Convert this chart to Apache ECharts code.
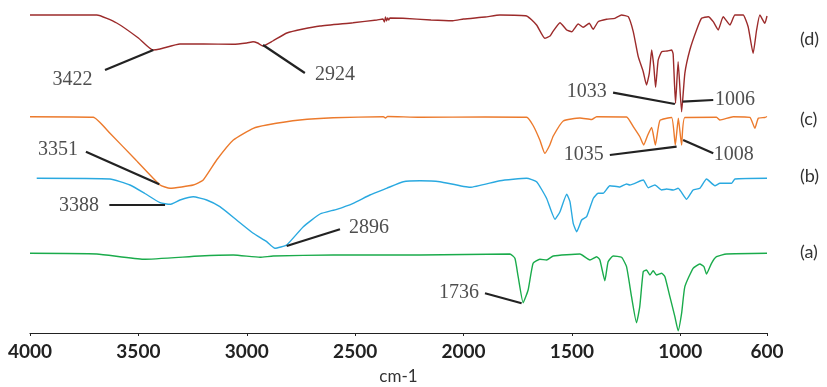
<!DOCTYPE html>
<html>
<head>
<meta charset="utf-8">
<script src="https://cdn.jsdelivr.net/npm/echarts@6/dist/echarts.min.js"></script>
<style>
  html, body { margin: 0; padding: 0; background: #fff; }
  #chart { width: 827px; height: 387px; }
</style>
</head>
<body>
<div id="chart"></div>
<script>
// wavenumber (cm-1), offset transmittance (a.u.)
const specD = [[4000,318],[3692,318],[3600,310],[3500,295],[3433,283],[3400,284],[3308,289],[3200,289],[3064,288.7],[3000,290],[2971,291.3],[2950,290],[2925,287],[2880,292],[2815,300],[2740,304],[2662,307],[2510,310.3],[2400,313],[2372,314],[2365,311],[2360,316],[2355,312],[2350,315],[2345,313],[2340,315],[2280,314.7],[2150,313],[2049,312.3],[2000,314],[1900,316],[1832,318],[1709,317],[1663,308],[1625,294.7],[1601,297],[1588,301.3],[1555,310.3],[1524,303],[1501,301.3],[1471,309],[1448,305.7],[1420,309.7],[1402,303.7],[1379,311.3],[1340,313.7],[1302,314.7],[1271,318],[1240,316.3],[1217,301.3],[1194,276.3],[1171,261.3],[1156,248],[1143,259.7],[1132,283],[1122,266.3],[1114,245.7],[1102,273],[1086,281.3],[1060,282],[1040,283],[1033,279],[1022,229.7],[1010,271.3],[994,221.3],[979,259.7],[956,283],[925,303],[902,314.7],[871,316.3],[848,311.3],[825,303],[802,316.3],[771,308],[748,318],[710,318],[687,306.3],[664,279.7],[648,303],[633,318],[610,309.7],[600,317]];

const specC = [[4000,216.3],[3708,215.7],[3631,199.7],[3516,174],[3400,148],[3354,144.7],[3247,148],[3201,153],[3139,173],[3062,193],[2970,204.7],[2908,208],[2755,213],[2601,215.3],[2370,216.3],[2360,215],[2350,216.5],[2201,215.7],[1900,216],[1709,215.7],[1679,207.5],[1648,193],[1625,179.7],[1602,188],[1586,197],[1540,212],[1463,215],[1409,213.5],[1386,216.3],[1248,216],[1217,206.3],[1186,196],[1169,188],[1150,198],[1132,205.5],[1115,188],[1094,212.5],[1040,215.5],[1023,188],[1009,214.7],[994,188],[979,215.5],[833,215.7],[817,213],[756,216.3],[679,215.7],[656,204.7],[640,214.7],[610,215.5],[600,216.5]];

const specB = [[3969,154.7],[3631,154],[3539,148],[3470,139.5],[3400,130.3],[3354,128.7],[3308,133],[3247,136.3],[3185,133],[3124,126.3],[3047,113],[2970,99.7],[2908,91.3],[2870,84.7],[2816,88],[2739,106.3],[2662,119],[2585,123.7],[2509,129.7],[2432,138],[2355,144.7],[2278,151.3],[2201,152.3],[2109,151.3],[1970,145.7],[1832,152.3],[1709,154.7],[1663,151.3],[1617,134.7],[1578,113.7],[1555,121.3],[1524,138.7],[1509,131.3],[1494,109.7],[1478,101.3],[1455,113],[1432,116.3],[1401,134.7],[1379,139.7],[1356,139.7],[1325,147.3],[1279,146],[1248,149],[1233,148],[1171,153],[1148,145.3],[1117,148],[1086,143],[1063,144],[1033,143],[1010,144.7],[971,133.7],[941,143],[910,144.7],[879,154],[840,147.3],[817,149.7],[763,149.7],[748,154],[600,154.7]];

const specA = [[4000,79.7],[3692,79],[3477,73.7],[3216,77],[3062,78],[2939,75.7],[2878,77],[2601,78],[2201,78],[1786,79],[1763,74.7],[1748,56.3],[1725,30.3],[1702,43],[1679,69.7],[1648,73.7],[1617,73],[1586,77],[1463,79],[1417,73],[1386,76.3],[1371,73],[1348,52.3],[1333,71.3],[1310,77],[1271,75.7],[1248,66.3],[1225,36.3],[1202,10.3],[1187,26.3],[1171,61.3],[1156,63],[1140,58],[1125,62.3],[1110,58],[1086,59.7],[1071,56.3],[1048,36.3],[1025,16.3],[1010,2.3],[994,19.7],[979,46.3],[941,64.7],[910,69],[891,66.3],[879,59],[856,69.7],[833,76.3],[787,79],[600,79.7]];

const seriesNames = ['(a)', '(b)', '(c)', '(d)'];
const tickValues = [4000, 3500, 3000, 2500, 2000, 1500, 1000, 600];

// [label, peak wn, peak y, leader end wn, leader end y, text wn, text y]
const peakLabels = [
  ['3422', 3431, 283, 3654, 263, 3804, 253],
  ['2924', 2925, 288, 2732, 260, 2593, 258.5],
  ['3351', 3404, 148.7, 3742, 181.3, 3871, 183],
  ['3388', 3377, 128, 3634, 128, 3774, 127],
  ['2896', 2816, 87, 2570, 103.7, 2436, 105],
  ['1033', 1025, 229, 1310, 240.3, 1431, 241],
  ['1006', 990, 231.3, 848, 233, 748, 233],
  ['1035', 1017, 186.3, 1325, 178, 1445, 178],
  ['1008', 987, 193, 848, 179.7, 753, 178],
  ['1736', 1732, 29.7, 1901, 39.7, 2021, 40]
];

const chart = echarts.init(document.getElementById('chart'));

const colors = ['#1aab4b', '#2aa9e0', '#ec7a2c', '#9c2b2b'];
const specs = [specA, specB, specC, specD];

const lineSeries = specs.map(function (d, i) {
  return {
    name: seriesNames[i],
    type: 'line',
    data: d,
    showSymbol: false,
    smooth: 0.15,
    lineStyle: { color: colors[i], width: 1.4 },
    itemStyle: { color: colors[i] },
    z: 2
  };
});

// series tags on the right side
const tagY = [254, 178, 121, 41];
const tags = seriesNames.map(function (n, i) {
  return {
    type: 'text',
    left: 800,
    top: tagY[i] - 11,
    style: { text: n, fill: '#333', font: '18px Lato' }
  };
});

const option = {
  animation: false,
  backgroundColor: '#fff',
  grid: { left: 30, right: 60, top: 0, bottom: 54, outerBoundsMode: 'none' },
  xAxis: {
    type: 'value',
    min: 600,
    max: 4000,
    inverse: true,
    name: 'cm-1',
    nameLocation: 'middle',
    nameGap: 35,
    nameTextStyle: { color: '#333', fontFamily: 'Lato', fontSize: 17 },
    axisLine: { show: true, lineStyle: { color: '#222', width: 1.2 } },
    axisTick: { show: true, length: 3, customValues: tickValues, lineStyle: { color: '#222' } },
    axisLabel: {
      customValues: tickValues,
      formatter: function (v) { return String(v); },
      margin: 9,
      color: '#222',
      fontFamily: 'Lato',
      fontWeight: 'bold',
      fontSize: 19
    },
    splitLine: { show: false }
  },
  yAxis: {
    type: 'value',
    min: 0,
    max: 333,
    show: false
  },
  graphic: tags,
  series: lineSeries.concat([
    {
      type: 'lines',
      coordinateSystem: 'cartesian2d',
      polyline: false,
      silent: true,
      lineStyle: { color: '#222', width: 2.2, opacity: 1 },
      data: peakLabels.map(function (p) {
        return { coords: [[p[1], p[2]], [p[3], p[4]]] };
      }),
      z: 3
    },
    {
      type: 'scatter',
      symbolSize: 1,
      itemStyle: { color: 'rgba(0,0,0,0)' },
      silent: true,
      data: peakLabels.map(function (p) {
        return { name: p[0], value: [p[5], p[6]] };
      }),
      label: {
        show: true,
        position: 'inside',
        formatter: '{b}',
        color: '#222',
        fontFamily: 'Liberation Serif',
        fontSize: 20
      },
      z: 4
    }
  ])
};

chart.setOption(option);
</script>
</body>
</html>
